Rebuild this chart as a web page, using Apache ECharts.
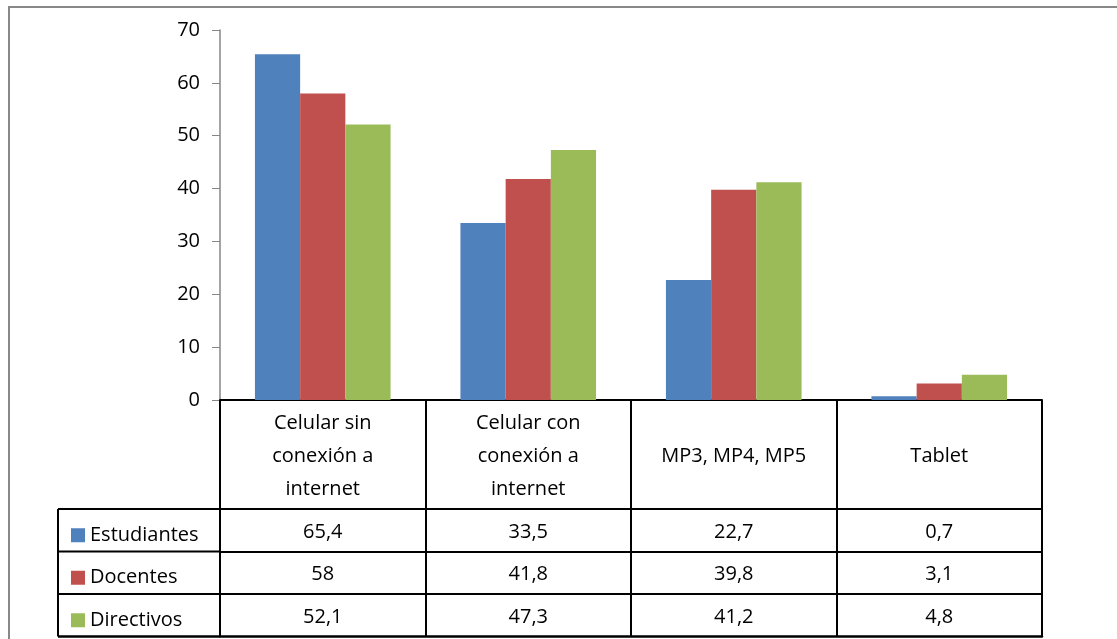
<!DOCTYPE html>
<html>
<head>
<meta charset="utf-8">
<script src="https://cdn.jsdelivr.net/npm/echarts@6/dist/echarts.min.js"></script>
<style>
  html, body { margin: 0; padding: 0; background: #fff; }
  #chart { width: 1117px; height: 639px; }
</style>
</head>
<body>
<div id="chart"></div>
<script>
const categories = [
  "Celular sin\nconexión a\ninternet",
  "Celular con\nconexión a\ninternet",
  "MP3, MP4, MP5",
  "Tablet"
];
const seriesNames = ["Estudiantes", "Docentes", "Directivos"];
const estudiantes = [65.4, 33.5, 22.7, 0.7];
const docentes = [58, 41.8, 39.8, 3.1];
const directivos = [52.1, 47.3, 41.2, 4.8];
const colors = ["#4F81BD", "#C0504D", "#9BBB59"];

const font = "Open Sans";
const fontSize = 20;
const rows = [estudiantes, docentes, directivos];

// table layout (pixels)
const gridLeft = 220, gridRight = 75, gridTop = 30, gridBottom = 239;
const headerH = 109, rowH = 42.5;
const tableLeft = 58;
const axisY = 639 - gridBottom;

function fmt(v) {
  return String(v).replace(".", ",");
}

const rowAxes = rows.map(function (vals, i) {
  return {
    type: "category",
    gridIndex: 0,
    position: "bottom",
    offset: headerH + rowH * i,
    data: vals.map(fmt),
    axisLine: { show: true, lineStyle: { color: "#000", width: 2 } },
    axisTick: { show: false },
    axisLabel: {
      interval: 0,
      margin: rowH / 2 + 2,
      verticalAlign: "middle",
      color: "#000",
      fontFamily: font,
      fontSize: fontSize,
    },
  };
});

const option = {
  animation: false,
  backgroundColor: "#fff",
  grid: { left: gridLeft, right: gridRight, top: gridTop, bottom: gridBottom },
  legend: {
    orient: "vertical",
    left: 66,
    top: axisY + headerH + rowH / 2 - 10,
    itemWidth: 14,
    itemHeight: 14,
    itemGap: rowH - 20,
    selectedMode: false,
    icon: "rect",
    data: seriesNames,
    textStyle: { color: "#000", fontFamily: font, fontSize: fontSize, lineHeight: 20 },
  },
  xAxis: [
    {
      type: "category",
      data: categories,
      axisLine: { show: true, lineStyle: { color: "#000", width: 2 } },
      axisTick: {
        show: true,
        interval: 0,
        length: headerH + rowH * 3,
        lineStyle: { color: "#000", width: 2 },
      },
      axisLabel: {
        interval: 0,
        margin: headerH / 2 + 2,
        verticalAlign: "middle",
        lineHeight: 33,
        color: "#000",
        fontFamily: font,
        fontSize: fontSize,
      },
    },
  ].concat(rowAxes).concat([
    {
      type: "category",
      gridIndex: 0,
      position: "bottom",
      offset: headerH + rowH * 3,
      data: categories,
      axisLine: { show: true, lineStyle: { color: "#000", width: 2.5 } },
      axisTick: { show: false },
      axisLabel: { show: false },
    },
  ]),
  yAxis: {
    type: "value",
    min: 0,
    max: 70,
    interval: 10,
    axisLine: { show: true, lineStyle: { color: "#868686", width: 1.5 } },
    axisTick: { show: true, length: 8, lineStyle: { color: "#868686" } },
    splitLine: { show: false },
    axisLabel: { margin: 20, color: "#000", fontFamily: font, fontSize: fontSize },
  },
  series: [estudiantes, docentes, directivos].map(function (d, i) {
    return {
      name: seriesNames[i],
      type: "bar",
      data: d,
      xAxisIndex: 0,
      barGap: "0%",
      barCategoryGap: "34%",
      itemStyle: { color: colors[i] },
    };
  }),
  graphic: [
    {
      type: "rect",
      shape: { x: 9, y: 7, width: 1130, height: 660 },
      style: { fill: "none", stroke: "#888", lineWidth: 2 },
      silent: true,
    },
    {
      type: "line",
      shape: { x1: tableLeft, y1: axisY + headerH, x2: tableLeft, y2: axisY + headerH + rowH * 3 },
      style: { stroke: "#000", lineWidth: 2 },
    },
  ].concat([0, 1, 2, 3].map(function (i) {
    const y = axisY + headerH + rowH * i;
    return {
      type: "line",
      shape: { x1: tableLeft, y1: y, x2: gridLeft, y2: y },
      style: { stroke: "#000", lineWidth: i === 3 ? 2.5 : 2 },
    };
  })),
};

const chart = echarts.init(document.getElementById("chart"));
chart.setOption(option);
</script>
</body>
</html>
